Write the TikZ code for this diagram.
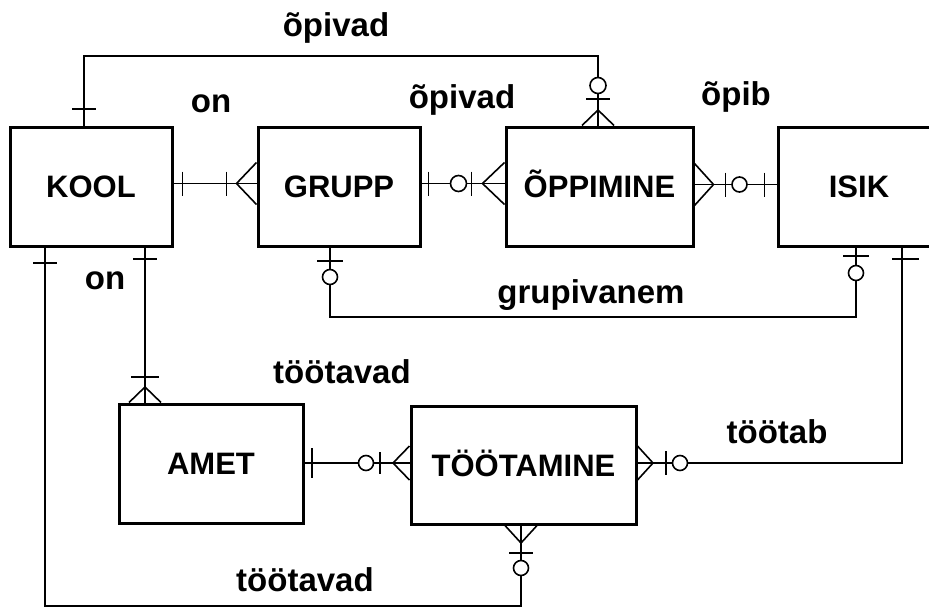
\documentclass[tikz,border=0pt]{standalone}
\usepackage{fontspec}
\setmainfont{Liberation Sans}
\usetikzlibrary{calc}
\begin{document}
\begin{tikzpicture}[x=1pt,y=-1pt,
  entity/.style={draw,line width=3pt,inner sep=0pt,text height=22.4pt,text depth=0pt,font=\fontsize{31}{31}\selectfont\bfseries},
  lbl/.style={font=\fontsize{33}{33}\selectfont\bfseries,anchor=base,inner sep=0pt},
  conn/.style={line width=1.6pt},
  ring/.style={conn,fill=white}]
\useasboundingbox[fill=white] (0,0) rectangle (929,608);
\clip (0,0) rectangle (929,608);

% entities
\node[entity,minimum width=162pt,minimum height=119pt] (kool) at (91,186.5) {KOOL};
\node[entity,minimum width=162pt,minimum height=119pt] (grupp) at (339,186.5) {GRUPP};
\node[entity,minimum width=187pt,minimum height=119pt] (oppimine) at (599.5,186.5) {ÕPPIMINE};
\node[entity,minimum width=162pt,minimum height=119pt] (isik) at (859,186.5) {ISIK};
\node[entity,minimum width=184pt,minimum height=119pt] (amet) at (211,463.5) {AMET};
\node[entity,minimum width=225pt,minimum height=118pt] (tootamine) at (523.5,465) {TÖÖTAMINE};

% labels
\node[lbl] (l1) at (336,36) {õpivad};
\node[lbl] (l2) at (211,112) {on};
\node[lbl] (l3) at (462,108) {õpivad};
\node[lbl] (l4) at (736,105) {õpib};
\node[lbl] (l5) at (105,289) {on};
\node[lbl] (l6) at (591,303) {grupivanem};
\node[lbl] (l7) at (342,383) {töötavad};
\node[lbl] (l8) at (777,443) {töötab};
\node[lbl] (l9) at (305,591) {töötavad};

% A: KOOL - GRUPP
\coordinate (a1) at ($(kool.east)+(0,-3)$);
\coordinate (a2) at ($(grupp.west)+(0,-3)$);
\draw[conn] (a1) -- (a2);
\draw[conn] ($(a1)+(9,-12)$) -- ($(a1)+(9,12)$);
\draw[conn] ($(a2)+(-30,-12)$) -- ($(a2)+(-30,12)$);
\draw[conn] ($(a2)+(0,-21)$) -- ($(a2)+(-20,0)$) -- ($(a2)+(0,21)$);

% B: GRUPP - OPPIMINE
\coordinate (b1) at ($(grupp.east)+(0,-3)$);
\coordinate (b2) at ($(oppimine.west)+(0,-3)$);
\draw[conn] (b1) -- (b2);
\draw[conn] ($(b1)+(7,-12)$) -- ($(b1)+(7,12)$);
\draw[conn] ($(b2)+(-33,-12)$) -- ($(b2)+(-33,12)$);
\draw[conn] ($(b2)+(0,-21)$) -- ($(b2)+(-22,0)$) -- ($(b2)+(0,21)$);
\draw[ring] ($(b1)+(37,0)$) circle[radius=8pt];

% C: OPPIMINE - ISIK
\coordinate (c1) at ($(oppimine.east)+(0,-2)$);
\coordinate (c2) at ($(isik.west)+(0,-2)$);
\draw[conn] (c1) -- (c2);
\draw[conn] ($(c1)+(0,-21)$) -- ($(c1)+(19,0)$) -- ($(c1)+(0,21)$);
\draw[conn] ($(c1)+(31,-12)$) -- ($(c1)+(31,12)$);
\draw[conn] ($(c2)+(-12,-12)$) -- ($(c2)+(-12,12)$);
\draw[ring] ($(c1)+(45,0)$) circle[radius=7.5pt];

% D: KOOL top - OPPIMINE top
\coordinate (d1) at ($(kool.north west)+(75.5,0)$);
\coordinate (d2) at ($(oppimine.north west)+(93.5,0)$);
\coordinate (dy) at (0,56);
\draw[conn] (d1) -- (d1 |- dy) -- (d2 |- dy) -- (d2);
\draw[conn] ($(d1)+(-12,-16.5)$) -- ($(d1)+(12,-16.5)$);
\draw[conn] ($(d2)+(-12,-26.5)$) -- ($(d2)+(12,-26.5)$);
\draw[conn] ($(d2)+(-16,0)$) -- ($(d2)+(0,-15.5)$) -- ($(d2)+(16,0)$);
\draw[ring] ($(d2)+(0,-40)$) circle[radius=8pt];

% E: GRUPP bottom - ISIK bottom
\coordinate (e1) at ($(grupp.south west)+(73.5,0)$);
\coordinate (e2) at ($(isik.south west)+(79.5,0)$);
\coordinate (ey) at (0,317);
\draw[conn] (e1) -- (e1 |- ey) -- (e2 |- ey) -- (e2);
\draw[conn] ($(e1)+(-13,13.5)$) -- ($(e1)+(13,13.5)$);
\draw[ring] ($(e1)+(0,29.5)$) circle[radius=7.5pt];
\draw[conn] ($(e2)+(-13,8.5)$) -- ($(e2)+(13,8.5)$);
\draw[ring] ($(e2)+(0,25.5)$) circle[radius=7.5pt];

% F: ISIK bottom - TOOTAMINE right
\coordinate (f1) at ($(isik.south west)+(125.5,0)$);
\coordinate (f2) at ($(tootamine.east)+(0,-2)$);
\draw[conn] (f1) -- (f1 |- f2) -- (f2);
\draw[conn] ($(f1)+(-10,11.5)$) -- ($(f1)+(17,11.5)$);
\draw[conn] ($(f2)+(0,-17)$) -- ($(f2)+(15.5,0)$) -- ($(f2)+(0,17)$);
\draw[conn] ($(f2)+(28.5,-12)$) -- ($(f2)+(28.5,12)$);
\draw[ring] ($(f2)+(42.5,0)$) circle[radius=7.5pt];

% G: KOOL bottom - AMET top
\coordinate (g1) at ($(kool.south west)+(136.5,0)$);
\coordinate (g2) at (g1 |- amet.north);
\draw[conn] (g1) -- (g2);
\draw[conn] ($(g1)+(-12,11.5)$) -- ($(g1)+(12,11.5)$);
\draw[conn] ($(g2)+(-14,-25.5)$) -- ($(g2)+(14,-25.5)$);
\draw[conn] ($(g2)+(-16,0)$) -- ($(g2)+(0,-15.5)$) -- ($(g2)+(16,0)$);

% H: AMET - TOOTAMINE
\coordinate (h1) at ($(amet.east)+(0,-0.5)$);
\coordinate (h2) at (tootamine.west |- h1);
\draw[conn] (h1) -- (h2);
\draw[conn] ($(h1)+(7.5,-15)$) -- ($(h1)+(7.5,15)$);
\draw[conn] ($(h2)+(-29.5,-11)$) -- ($(h2)+(-29.5,11)$);
\draw[conn] ($(h2)+(0,-17)$) -- ($(h2)+(-16.5,0)$) -- ($(h2)+(0,17)$);
\draw[ring] ($(h2)+(-43.5,0)$) circle[radius=7.5pt];

% I: KOOL bottom - TOOTAMINE bottom
\coordinate (i1) at ($(kool.south west)+(36.5,0)$);
\coordinate (i2) at ($(tootamine.south west)+(111.5,0)$);
\coordinate (iy) at (0,606);
\draw[conn] (i1) -- (i1 |- iy) -- (i2 |- iy) -- (i2);
\draw[conn] ($(i1)+(-12,15.5)$) -- ($(i1)+(12,15.5)$);
\draw[conn] ($(i2)+(-16,0)$) -- ($(i2)+(0,17.5)$) -- ($(i2)+(16,0)$);
\draw[conn] ($(i2)+(-12,27.5)$) -- ($(i2)+(12,27.5)$);
\draw[ring] ($(i2)+(0,42.5)$) circle[radius=7.5pt];
\end{tikzpicture}
\end{document}
